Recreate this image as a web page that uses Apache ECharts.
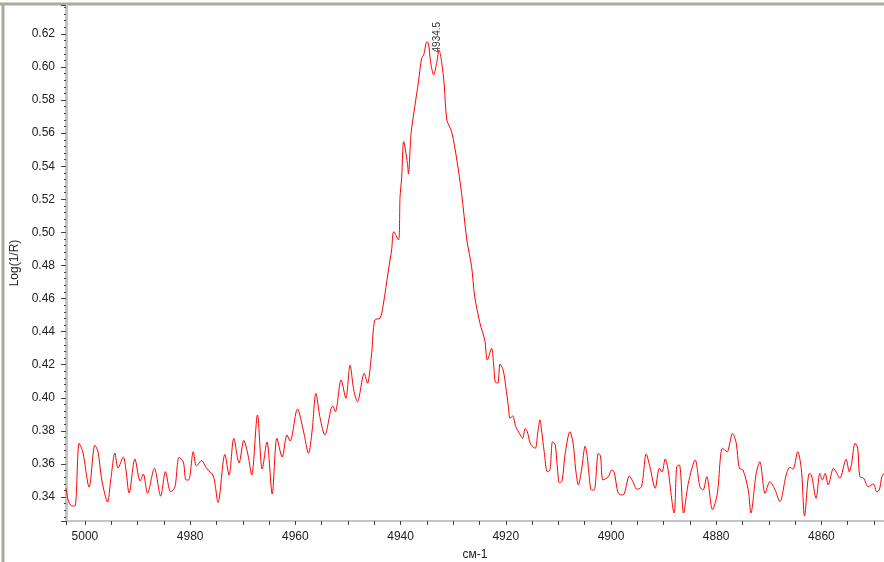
<!DOCTYPE html>
<html>
<head>
<meta charset="utf-8">
<script src="https://cdn.jsdelivr.net/npm/echarts@6/dist/echarts.min.js"></script>
<style>
  html, body { margin: 0; padding: 0; background: #fff; }
  #chart { width: 884px; height: 562px; }
</style>
</head>
<body>
<div id="chart"></div>
<script>
// wavenumbers (cm-1)
var wavenumbers = [
  5003.6, 5003.2, 5002.5, 5001.9, 5001.1, 5000.4, 4999.2, 4998.1, 4997.5, 4996.8,
  4995.7, 4995.1, 4994.3, 4993.7, 4992.7, 4992.2, 4991.6, 4990.5, 4989.5, 4988.9,
  4988.1, 4986.8, 4985.6, 4984.7, 4983.7, 4982.9, 4982.1, 4981.3, 4980.8, 4980.3,
  4979.4, 4978.8, 4977.8, 4976.9, 4975.6, 4974.7, 4973.4, 4972.6, 4971.7, 4970.7,
  4969.8, 4969.0, 4968.3, 4967.2, 4966.3, 4965.4, 4964.4, 4963.5, 4962.5, 4961.6,
  4961.0, 4959.6, 4958.5, 4957.5, 4956.8, 4956.1, 4955.3, 4954.4, 4953.2, 4952.9,
  4952.4, 4951.3, 4950.4, 4949.6, 4948.9, 4948.2, 4946.9, 4946.3, 4945.5, 4944.9,
  4943.9, 4943.3, 4942.3, 4941.7, 4941.3, 4940.4, 4940.1, 4939.8, 4939.4, 4938.7,
  4938.5, 4938.0, 4937.3, 4936.6, 4936.0, 4935.6, 4935.0, 4934.7, 4934.3, 4933.7,
  4933.1, 4932.7, 4932.2, 4931.7, 4931.2, 4930.3, 4929.3, 4928.4, 4927.4, 4926.5,
  4925.9, 4924.9, 4924.0, 4923.5, 4922.7, 4922.3, 4922.0, 4921.5, 4921.1, 4920.5,
  4920.0, 4919.5, 4919.2, 4918.7, 4918.1, 4917.4, 4916.8, 4916.3, 4915.9, 4915.3,
  4914.4, 4913.9, 4913.5, 4913.2, 4912.7, 4912.1, 4911.6, 4911.1, 4910.6, 4910.2,
  4909.8, 4909.3, 4908.7, 4907.8, 4907.2, 4906.7, 4906.2, 4905.6, 4904.9, 4904.5,
  4904.2, 4903.7, 4903.2, 4902.4, 4902.0, 4901.5, 4900.5, 4899.9, 4899.4, 4898.6,
  4897.7, 4896.5, 4895.8, 4895.1, 4894.2, 4893.3, 4892.6, 4891.6, 4890.8, 4890.3,
  4889.7, 4889.2, 4888.0, 4887.5, 4887.0, 4886.2, 4885.3, 4884.0, 4883.1, 4882.5,
  4881.8, 4880.7, 4879.8, 4878.8, 4877.9, 4877.5, 4876.9, 4876.2, 4875.6, 4874.9,
  4873.9, 4873.4, 4872.4, 4871.7, 4870.7, 4869.8, 4868.8, 4867.9, 4866.7, 4866.0,
  4865.4, 4864.5, 4863.8, 4863.2, 4862.3, 4861.9, 4861.0, 4860.3, 4859.8, 4859.3,
  4858.7, 4857.7, 4857.2, 4856.5, 4855.3, 4854.7, 4854.3, 4853.6, 4853.1, 4852.7,
  4852.0, 4851.1, 4850.1, 4849.5, 4849.0, 4848.5, 4848.1
];

// Log(1/R)
var absorbance = [
  0.3454, 0.3382, 0.3346, 0.3346, 0.3725, 0.3672, 0.3460, 0.3714, 0.3672, 0.3503,
  0.3370, 0.3503, 0.3666, 0.3575, 0.3642, 0.3563, 0.3424, 0.3630, 0.3497, 0.3539,
  0.3422, 0.3574, 0.3406, 0.3553, 0.3432, 0.3460, 0.3640, 0.3613, 0.3503, 0.3503,
  0.3674, 0.3588, 0.3620, 0.3574, 0.3527, 0.3367, 0.3658, 0.3533, 0.3755, 0.3606,
  0.3742, 0.3654, 0.3533, 0.3896, 0.3569, 0.3733, 0.3418, 0.3755, 0.3642, 0.3775,
  0.3739, 0.3932, 0.3805, 0.3664, 0.3805, 0.4027, 0.3878, 0.3775, 0.3936, 0.3950,
  0.3916, 0.4108, 0.3997, 0.4198, 0.4047, 0.3976, 0.4148, 0.4088, 0.4269, 0.4471,
  0.4481, 0.4561, 0.4773, 0.4894, 0.5004, 0.4954, 0.5216, 0.5327, 0.5549, 0.5418,
  0.5353, 0.5599, 0.5760, 0.5911, 0.6053, 0.6073, 0.6153, 0.6144, 0.6032, 0.5952,
  0.6032, 0.6103, 0.6032, 0.5891, 0.5680, 0.5609, 0.5438, 0.5236, 0.4954, 0.4793,
  0.4611, 0.4450, 0.4349, 0.4228, 0.4299, 0.4198, 0.4095, 0.4089, 0.4204, 0.4168,
  0.4067, 0.3946, 0.3876, 0.3890, 0.3825, 0.3785, 0.3755, 0.3815, 0.3795, 0.3721,
  0.3695, 0.3795, 0.3866, 0.3805, 0.3674, 0.3553, 0.3563, 0.3734, 0.3715, 0.3583,
  0.3486, 0.3497, 0.3664, 0.3795, 0.3725, 0.3563, 0.3473, 0.3563, 0.3708, 0.3644,
  0.3543, 0.3442, 0.3442, 0.3664, 0.3648, 0.3503, 0.3523, 0.3563, 0.3551, 0.3422,
  0.3412, 0.3527, 0.3491, 0.3447, 0.3462, 0.3660, 0.3583, 0.3453, 0.3574, 0.3551,
  0.3630, 0.3575, 0.3303, 0.3583, 0.3594, 0.3303, 0.3483, 0.3624, 0.3462, 0.3442,
  0.3523, 0.3324, 0.3418, 0.3695, 0.3674, 0.3714, 0.3785, 0.3727, 0.3574, 0.3563,
  0.3442, 0.3303, 0.3543, 0.3613, 0.3422, 0.3493, 0.3442, 0.3372, 0.3533, 0.3580,
  0.3569, 0.3674, 0.3563, 0.3285, 0.3543, 0.3533, 0.3392, 0.3543, 0.3503, 0.3543,
  0.3473, 0.3574, 0.3551, 0.3513, 0.3628, 0.3553, 0.3594, 0.3725, 0.3696, 0.3523,
  0.3515, 0.3462, 0.3479, 0.3432, 0.3442, 0.3523, 0.3543
];

// peak annotation
var peakLabel = '4934.5';
var peakAt = [4933.1, 0.6103];

var points = [];
for (var i = 0; i < wavenumbers.length; i++) {
  points.push([wavenumbers[i], absorbance[i]]);
}

var chart = echarts.init(document.getElementById('chart'));

var labelFont = {
  color: '#222',
  fontSize: 12,
  fontFamily: 'Liberation Sans, Arial, sans-serif'
};

var option = {
  backgroundColor: '#ffffff',
  animation: false,
  grid: {
    left: 66,
    right: 0,
    top: 5,
    bottom: 41,
    containLabel: false,
    outerBoundsMode: 'none'
  },
  // outer frame of the window
  graphic: [
    { type: 'line', shape: { x1: 0, y1: 4, x2: 884, y2: 4 }, style: { stroke: '#aaa99c', lineWidth: 3 } },
    { type: 'line', shape: { x1: 3, y1: 4, x2: 3, y2: 562 }, style: { stroke: '#aaa99c', lineWidth: 3 } }
  ],
  xAxis: {
    type: 'value',
    inverse: true,
    min: 4848.1,
    max: 5003.6,
    splitNumber: 8,
    name: 'см-1',
    nameLocation: 'middle',
    nameGap: 28,
    nameTextStyle: labelFont,
    axisLine: { lineStyle: { color: '#c4c4c4', width: 2 } },
    axisTick: { length: 4, lineStyle: { color: '#444' } },
    minorTick: { show: true, splitNumber: 4, length: 4, lineStyle: { color: '#444' } },
    axisLabel: Object.assign({
      margin: 10,
      showMinLabel: false,
      showMaxLabel: false,
      formatter: function (v) { return String(Math.round(v)); }
    }, labelFont),
    splitLine: { show: false }
  },
  yAxis: {
    type: 'value',
    min: 0.3255,
    max: 0.6375,
    splitNumber: 15,
    name: 'Log(1/R)',
    nameLocation: 'middle',
    nameGap: 45,
    nameTextStyle: labelFont,
    axisLine: { show: true, lineStyle: { color: '#c4c4c4', width: 3 } },
    axisTick: { show: true, length: 5, lineStyle: { color: '#444' } },
    minorTick: { show: true, splitNumber: 5, length: 2, lineStyle: { color: '#444' } },
    axisLabel: Object.assign({
      margin: 11,
      showMinLabel: false,
      showMaxLabel: false,
      formatter: function (v) { return v.toFixed(2); }
    }, labelFont),
    splitLine: { show: false }
  },
  series: [{
    type: 'line',
    data: points,
    showSymbol: false,
    symbol: 'none',
    smooth: 0.3,
    lineStyle: { color: '#ff0000', width: 1 },
    markPoint: {
      symbol: 'circle',
      symbolSize: 1,
      itemStyle: { color: 'rgba(0,0,0,0)' },
      label: {
        show: true,
        position: 'top',
        distance: -3,
        rotate: 90,
        align: 'left',
        verticalAlign: 'middle',
        color: '#333',
        fontSize: 10,
        fontFamily: 'Liberation Sans, Arial, sans-serif',
        formatter: peakLabel
      },
      data: [{ coord: peakAt }]
    }
  }]
};

chart.setOption(option);
</script>
</body>
</html>
